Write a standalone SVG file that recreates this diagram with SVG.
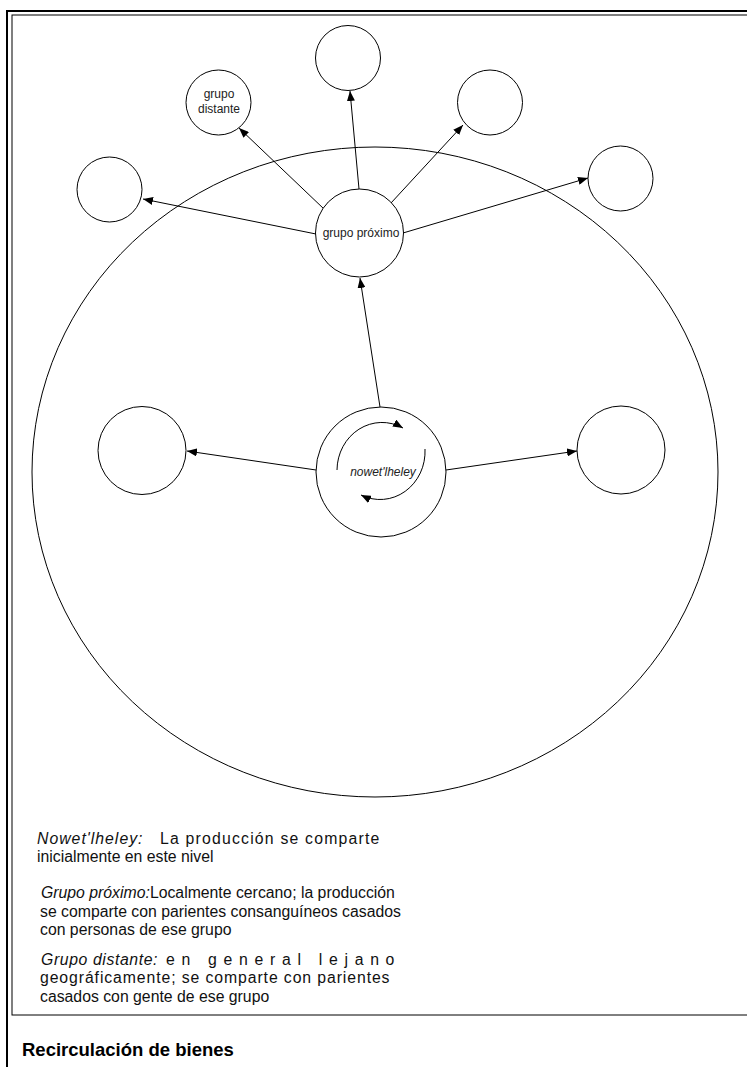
<svg xmlns="http://www.w3.org/2000/svg" width="747" height="1067" viewBox="0 0 747 1067">
  <style>
    .node { fill: #fff; stroke: #000; stroke-width: 1; }
    .ring { fill: none; stroke: #000; stroke-width: 1; }
    .edge { fill: none; stroke: #000; stroke-width: 1; marker-end: url(#arrow); }
    .lbl { font-family: "Liberation Sans", Arial, sans-serif; font-size: 12px; fill: #222; text-anchor: middle; }
    .note { font-family: "Liberation Sans", Arial, sans-serif; font-size: 15.8px; fill: #111; }
    .it { font-style: italic; }
    .title { font-family: "Liberation Sans", Arial, sans-serif; font-size: 18.5px; font-weight: bold; fill: #000; }
  </style>
  <defs>
    <marker id="arrow" markerUnits="userSpaceOnUse" markerWidth="11" markerHeight="8" refX="10" refY="4" orient="auto">
      <path d="M0,0 L10,4 L0,8 z" fill="#000"/>
    </marker>
  </defs>

  <rect width="747" height="1067" fill="#fff"/>

  <!-- page frame -->
  <path d="M7,1067 V11 H747" fill="none" stroke="#000" stroke-width="2"/>
  <rect x="12" y="15" width="740" height="1000" fill="none" stroke="#000" stroke-width="1"/>

  <!-- outer territory -->
  <ellipse id="territorio" class="ring" cx="375" cy="472" rx="343" ry="325"/>

  <!-- connectors -->
  <g id="connectors">
    <line class="edge" x1="380" y1="407" x2="360" y2="278"/>
    <line class="edge" x1="316" y1="470" x2="187" y2="451"/>
    <line class="edge" x1="446" y1="470" x2="577" y2="451"/>
    <line class="edge" x1="316" y1="234" x2="143" y2="199"/>
    <line class="edge" x1="324" y1="209" x2="239" y2="128"/>
    <line class="edge" x1="359" y1="189" x2="350" y2="91"/>
    <line class="edge" x1="391" y1="203" x2="463" y2="125"/>
    <line class="edge" x1="403" y1="233" x2="588" y2="178"/>
  </g>

  <!-- nodes -->
  <g id="nowetlheley">
    <circle class="node" cx="381" cy="472" r="65"/>
    <path class="edge" d="M337,470 A45,48 0 0 1 403,428"/>
    <path class="edge" d="M425,449 A45,48 0 0 1 361,495"/>
    <text class="lbl it" x="383" y="476">nowet'lheley</text>
  </g>
  <g id="grupo-proximo">
    <circle class="node" cx="359.5" cy="233" r="44"/>
    <text class="lbl" x="361" y="237">grupo próximo</text>
  </g>
  <g id="grupo-distante">
    <circle class="node" cx="218.5" cy="102.5" r="32.5"/>
    <text class="lbl" x="219" y="98">grupo</text>
    <text class="lbl" x="219" y="113">distante</text>
  </g>
  <g id="distante-arriba">
    <circle class="node" cx="348" cy="58" r="32.5"/>
  </g>
  <g id="distante-derecha-arriba">
    <circle class="node" cx="490" cy="102.5" r="32.5"/>
  </g>
  <g id="distante-derecha">
    <circle class="node" cx="620.5" cy="178.5" r="32.5"/>
  </g>
  <g id="distante-izquierda">
    <circle class="node" cx="109.5" cy="189.5" r="32.5"/>
  </g>
  <g id="proximo-izquierda">
    <circle class="node" cx="142" cy="450.5" r="44"/>
  </g>
  <g id="proximo-derecha">
    <circle class="node" cx="621" cy="450" r="44"/>
  </g>

  <!-- legend -->
  <g id="leyenda">
    <text class="note" y="844"><tspan class="it" x="37" letter-spacing="1">Nowet'lheley:</tspan><tspan x="160" letter-spacing="1.2">La producción se comparte</tspan></text>
    <text class="note" x="37" y="862">inicialmente en este nivel</text>

    <text class="note" y="898"><tspan class="it" x="41">Grupo próximo:</tspan><tspan>Localmente cercano; la producción</tspan></text>
    <text class="note" x="40" y="917">se comparte con parientes consanguíneos casados</text>
    <text class="note" x="40" y="935">con personas de ese grupo</text>

    <text class="note" y="965"><tspan class="it" x="41" letter-spacing="0.6">Grupo distante:</tspan><tspan x="166" letter-spacing="6.7">en general lejano</tspan></text>
    <text class="note" x="40" y="983" letter-spacing="0.9">geográficamente; se comparte con parientes</text>
    <text class="note" x="40" y="1002">casados con gente de ese grupo</text>
  </g>

  <text id="titulo" class="title" x="22" y="1056">Recirculación de bienes</text>
</svg>
